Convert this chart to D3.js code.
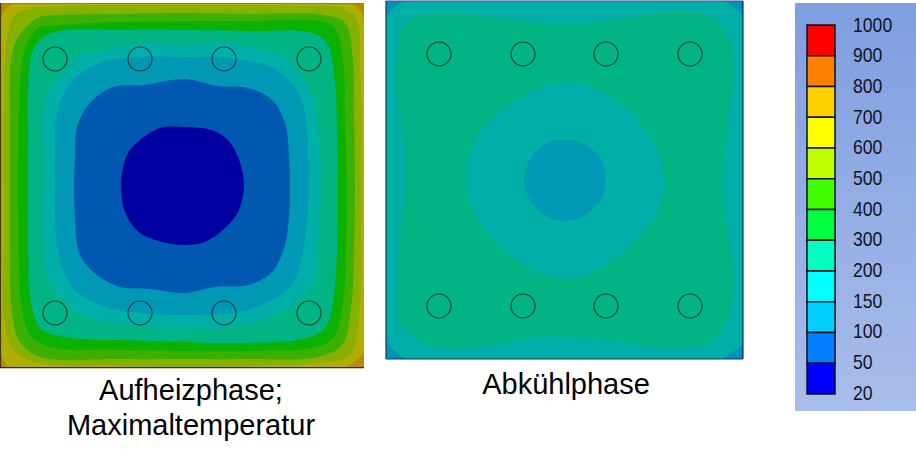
<!DOCTYPE html>
<html><head><meta charset="utf-8">
<script src="https://cdn.jsdelivr.net/npm/d3@7"></script>
<style>html,body{margin:0;padding:0;background:#fff}svg{display:block}</style>
</head><body><svg id="c" width="916" height="461"></svg>
<script>
// Heating plate: isotherm outlines, outermost first (image-read plate positions)
const heatYellow=[[60,-3],[14,3],[6,9],[1,18],[-3,60],[-3,300],[1,352],[4,361],[10,368],[60,372],[300,372],[345,368],[355,361],[363,353],[367,300],[367,60],[363,16],[358,8],[352,4],[300,-3]];
const heatOlive=[[33,8],[60,6],[120,5],[185,5],[250,5],[300,6],[342,8],[357,20],[360,67],[361,120],[361,185],[361,250],[359,318],[350,355],[318,363],[250,366],[185,367],[120,366],[33,362],[12,348],[4,318],[4,250],[4,185],[4,120],[5,60],[7,38],[15,15]];
const heatLime=[[60,15],[120,14],[185,13],[250,14],[325,15],[345,23],[353,60],[354,120],[355,185],[354,250],[351,308],[342,345],[318,357],[250,359],[185,359],[120,359],[40,357],[20,342],[12,312],[10,250],[10,185],[10,120],[11,60],[15,43],[25,28],[40,17]];
const heatGreen=[[60,25],[120,22],[185,21],[250,21],[318,21],[335,28],[343,60],[345,120],[347,185],[346,250],[343,302],[333,338],[312,348],[250,351],[185,351],[120,350],[50,347],[30,335],[21,302],[19,250],[18,185],[19,120],[22,60],[30,37],[40,27]];
const heatTealGreen=[[60,31],[120,30],[185,30],[250,31],[312,33],[327,43],[335,83],[337,130],[338,185],[337,250],[333,302],[325,328],[302,339],[218,343],[185,342],[120,340],[63,337],[40,328],[31,302],[28,250],[28,185],[28,140],[28,90],[32,52],[42,38]];
const heatTeal=[[110,50],[140,43],[185,46],[218,42],[252,47],[285,57],[302,77],[313,97],[318,130],[321,185],[319,230],[314,278],[302,298],[268,318],[238,327],[205,329],[185,327],[157,328],[133,325],[87,317],[60,298],[47,275],[43,230],[43,185],[43,150],[43,110],[50,87],[65,72],[77,57]];
const heatCyan=[[100,63],[140,57],[185,57],[218,57],[242,60],[272,67],[295,87],[305,113],[308,150],[309,185],[307,220],[303,252],[292,285],[268,302],[238,312],[185,315],[140,313],[100,305],[73,288],[60,262],[55,220],[55,185],[55,150],[57,113],[70,83]];
const heatBlue=[[113,87],[143,85],[185,79],[218,86],[248,88],[272,100],[285,123],[289,155],[290,185],[289,215],[285,245],[272,272],[248,285],[215,287],[185,293],[150,289],[120,287],[97,275],[80,255],[75,220],[74,185],[75,155],[77,127],[90,103]];
const heatDark=[[160,128],[185,127],[212,130],[228,140],[238,157],[244,185],[238,212],[225,228],[205,242],[185,245],[167,243],[140,233],[125,212],[121,185],[122,173],[128,153],[140,140]];
const heatColors=["#b0ae00","#88b000","#3cb000","#0cb000","#00b484","#00b0a8","#0098b4","#0058b0","#0000a0"];
const heatBase="#b88c00";

const coolTeal=[[440,-3],[405,1],[395,7],[386,18],[382,60],[382,300],[386,340],[395,351],[406,359],[440,363],[690,363],[722,359],[733,352],[743,343],[747,300],[747,60],[743,17],[735,8],[725,2],[690,-3]];
const coolGreen=[[420,15],[453,13],[513,20],[570,24],[632,17],[678,12],[712,17],[728,37],[733,73],[725,150],[722,190],[728,230],[733,280],[728,320],[708,343],[665,348],[608,340],[570,337],[537,337],[493,345],[447,348],[417,340],[400,320],[397,280],[400,237],[406,180],[403,133],[397,93],[397,57],[403,27]];
const coolMiddle=[[570,82],[598,90],[632,113],[655,147],[665,180],[655,217],[628,247],[598,270],[570,279],[547,275],[520,263],[493,240],[473,210],[465,180],[467,163],[480,133],[507,107],[540,88]];
const coolCentre=[[565,140],[582,143],[600,158],[606,180],[602,197],[587,214],[565,221],[545,215],[530,200],[524,180],[530,160],[547,143]];
const coolColors=["#00b0a8","#00b484","#00b0a8","#0098b4"];
const coolBase="#0090b8";

const heatBoltX=[55,140,224,309], heatBoltY=[59,313];
const coolBoltX=[439,523,606,690], coolBoltY=[54,306];
const boltRadius=[12];

const legendLabels=["1000","900","800","700","600","500","400","300","200","150","100","50","20"];
const legendColors=["#ff0000","#ff8000","#ffd000","#ffff00","#c0ff00","#40ff00","#00ff40","#00ffc0","#00ffff","#00d0ff","#0080ff","#0000ff"];

const captions=[["Aufheizphase;",191,400],["Maximaltemperatur",191,435],["Abkühlphase",566,394]];

const svg=d3.select("#c");
const defs=svg.append("defs");

function plate(id,box,base,outlines,colors,boltX,boltY,frame){
  const x=d3.scaleLinear().domain([box[0],box[2]]).range([box[0],box[2]]);
  const y=d3.scaleLinear().domain([box[1],box[3]]).range([box[1],box[3]]);
  defs.append("clipPath").attr("id",id).append("rect")
    .attr("x",x(box[0])).attr("y",y(box[1])).attr("width",x(box[2])-x(box[0])).attr("height",y(box[3])-y(box[1]));
  const g=svg.append("g");
  const inner=g.append("g").attr("clip-path",`url(#${id})`);
  inner.append("rect").attr("x",x(box[0])).attr("y",y(box[1])).attr("width",x(box[2])-x(box[0])).attr("height",y(box[3])-y(box[1])).attr("fill",base);
  const line=d3.line().x(d=>x(d[0])).y(d=>y(d[1])).curve(d3.curveCatmullRomClosed.alpha(0.5));
  inner.selectAll("path").data(outlines).join("path").attr("d",line).attr("fill",(d,i)=>colors[i]);
  const bolts=d3.cross(boltX,boltY);
  g.selectAll("circle").data(bolts).join("circle")
    .attr("cx",d=>x(d[0])).attr("cy",d=>y(d[1])).attr("r",boltRadius[0])
    .attr("fill","none").attr("stroke","#0d3f3f").attr("stroke-width",1.1);
  frame.forEach(f=>{
    g.append("line").attr("x1",x(f[0])).attr("y1",y(f[1])).attr("x2",x(f[2])).attr("y2",y(f[3]))
     .attr("stroke",f[4]).attr("stroke-width",1.2);
  });
}

plate("heatClip",[0,3,364,368],heatBase,
  [heatYellow,heatOlive,heatLime,heatGreen,heatTealGreen,heatTeal,heatCyan,heatBlue,heatDark],heatColors,heatBoltX,heatBoltY,
  [[0,3.5,364,3.5,"#5f7fa8"],[0.5,3,0.5,368,"#3d3a10"],[0,367.6,364,367.6,"#2e2a08"]]);
plate("coolClip",[386,1,743,359],coolBase,
  [coolTeal,coolGreen,coolMiddle,coolCentre],coolColors,coolBoltX,coolBoltY,
  [[386,1,743,1,"#4a4f96"],[386,1,386,359,"#123a50"],[386,359,743,359,"#1c3a4c"],[743,1,743,359,"#0e3550"]]);

// Legend
const grad=defs.append("linearGradient").attr("id","panel").attr("x1",0).attr("x2",0).attr("y1",0).attr("y2",1);
grad.append("stop").attr("offset",0).attr("stop-color","#7f9ee0");
grad.append("stop").attr("offset",1).attr("stop-color","#a9bdea");
svg.append("rect").attr("x",795).attr("y",3).attr("width",121).attr("height",408).attr("fill","url(#panel)");
const yBand=d3.scaleBand().domain(legendColors).range([25,394]);
svg.append("g").selectAll("rect").data(legendColors).join("rect")
  .attr("x",807).attr("y",d=>yBand(d)).attr("width",28).attr("height",yBand.bandwidth())
  .attr("fill",d=>d).attr("stroke","#0a0f1e").attr("stroke-width",1.5);
const yTick=d3.scalePoint().domain(legendLabels).range([24,392]);
svg.append("g").selectAll("text").data(legendLabels).join("text")
  .attr("x",853).attr("y",d=>yTick(d)).attr("dy","0.36em")
  .attr("font-family","'Liberation Sans',sans-serif").attr("font-size",21)
  .attr("textLength",d=>d.length*9.8).attr("lengthAdjust","spacingAndGlyphs")
  .attr("fill","#10141e").text(d=>d);

svg.append("g").selectAll("text").data(captions).join("text")
  .attr("x",d=>d[1]).attr("y",d=>d[2]).attr("text-anchor","middle")
  .attr("font-family","'Liberation Sans',Arial,sans-serif").attr("font-size",29)
  .attr("fill","#000").text(d=>d[0]);
</script></body></html>
